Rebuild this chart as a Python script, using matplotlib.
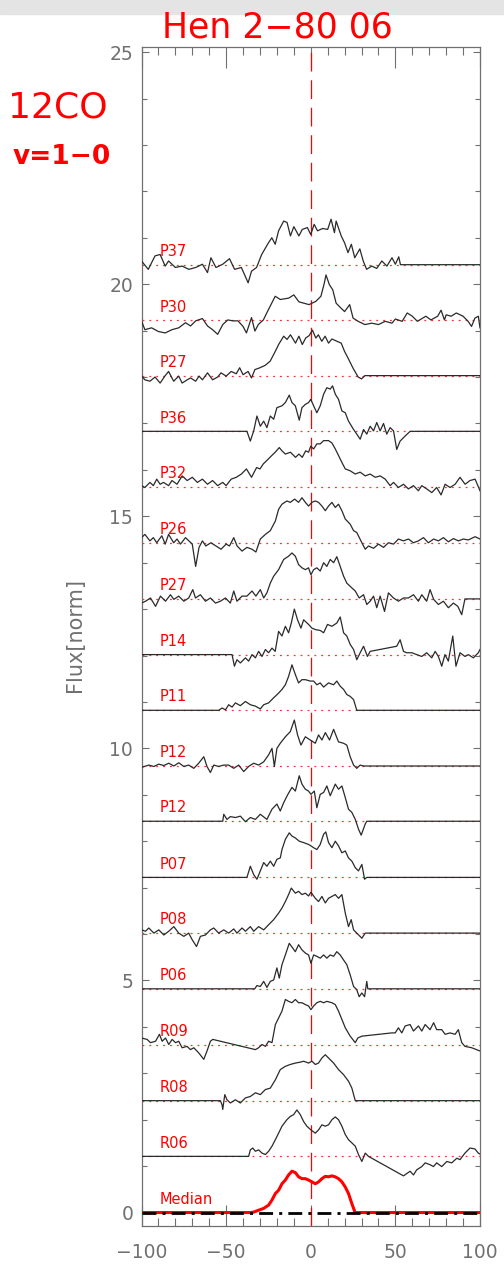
import numpy as np
import matplotlib.pyplot as plt
from matplotlib.patches import Rectangle

# velocity [km/s] / normalised flux (relative to each spectrum's baseline)
v_p37 = [-100,-96,-92,-89,-86,-84,-80,-76,-72,-68,-64,-61,-59,-56,-52,-48,-45,-41,-37,-35,
         -32,-29,-25,-23,-21,-19,-16,-14,-12,-10,-7,-5,-2,0,2,4,7,10,12,14,
         15,18,20,22,24,26,29,31,33,36,39,42,45,48,50,52,53,100]
f_p37 = [0.08,-0.10,0.19,0.22,-0.03,0.08,-0.06,-0.03,-0.10,-0.06,0.01,-0.17,0.15,-0.06,0.01,0.13,-0.10,-0.06,-0.39,-0.14,
         -0.06,0.22,0.47,0.58,0.44,0.73,0.94,0.91,0.62,0.82,0.62,0.76,0.80,0.65,0.87,0.73,0.78,0.76,0.98,0.69,
         0.94,0.62,0.47,0.26,0.44,0.15,0.34,0.08,-0.10,-0.03,-0.08,0.08,-0.03,0.15,0.01,0.17,0.0,0.0]

v_p30 = [-100,-98,-94,-90,-86,-82,-78,-74,-71,-68,-64,-61,-58,-55,-52,-49,-46,-43,-40,-38,
         -35,-33,-31,-28,-26,-21,-18,-13,-10,-7,-4,-1,3,6,8,9,11,13,15,18,
         20,23,25,28,32,36,40,44,48,50,54,57,60,63,68,71,75,77,79,80,
         83,86,90,93,95,97,99,100]
f_p30 = [-0.01,-0.20,-0.16,-0.24,-0.27,-0.20,-0.16,-0.05,-0.12,-0.01,0.04,-0.12,-0.20,-0.30,-0.09,0.01,-0.01,-0.01,-0.13,-0.27,
         0.06,-0.23,-0.09,0.01,0.16,0.52,0.45,0.48,0.55,0.40,0.37,0.34,0.41,0.52,0.80,0.98,0.77,0.66,0.37,0.26,
         0.19,0.34,0.05,-0.02,-0.09,-0.06,-0.09,-0.02,-0.06,0.03,-0.02,0.16,0.09,-0.02,0.09,0.01,0.09,0.22,0.01,0.12,
         0.09,0.16,0.09,-0.02,-0.13,0.05,0.09,-0.16]

v_p27 = [-100,-98,-95,-92,-89,-86,-84,-81,-78,-76,-73,-71,-68,-66,-64,-61,-58,-55,-53,-50,
         -47,-44,-42,-40,-37,-35,-33,-30,-27,-24,-21,-19,-16,-14,-12,-9,-7,-5,-3,-1,
         1,3,4.5,6.5,8.5,10.5,12.5,15.5,18,20,22,25,28,30,32,100]
f_p27 = [-0.01,-0.09,-0.12,-0.03,-0.16,0.0,0.09,-0.12,-0.01,-0.16,-0.09,-0.05,-0.12,-0.01,-0.09,0.06,-0.09,-0.03,0.06,-0.01,
         0.09,0.04,0.17,0.02,0.09,-0.05,0.13,0.17,0.22,0.31,0.52,0.67,0.85,0.78,0.88,0.70,0.85,0.67,0.81,0.86,
         0.98,0.81,0.88,0.74,0.85,0.70,0.79,0.74,0.70,0.52,0.38,0.16,-0.03,-0.07,0.0,0.0]

v_p36 = [-100,-37.7,-35.7,-33.7,-31.8,-29.8,-27.8,-25.9,-23.9,-21.9,-20,-17,-15,-12.7,-11.1,-9.1,-6.8,-5.2,-3.2,-1.3,
         0,1.7,3.6,5.6,7.6,9.5,11.5,12.9,14.5,16.4,18.4,20.4,22.3,25.3,27.2,29.2,31.2,33.1,35.1,37.1,
         39,41,43,44.9,46.9,48.9,50.8,52.8,55.8,58.7,100]
f_p36 = [0,0,-0.21,0.01,0.33,0.11,0.22,0.08,0.33,0.26,0.51,0.55,0.62,0.78,0.62,0.55,0.24,0.51,0.58,0.62,
         0.69,0.55,0.40,0.55,0.80,0.94,0.91,0.98,0.80,0.69,0.44,0.40,0.22,0.04,-0.06,-0.17,0.04,-0.06,0.11,0.01,
         0.19,0.01,0.17,-0.06,0.08,0.01,-0.39,-0.21,-0.10,0,0]

v_p32 = [-100,-98,-95,-93,-91,-89,-87,-84,-82,-79,-76,-73,-70,-67,-64,-61,-58,-55,-52,-50,
         -47,-44,-41,-38,-35,-32,-30,-28,-26,-23,-21,-18.6,-17,-15,-12,-9,-7,-5,-3,-1.3,
         0,1.7,3.6,5.6,7.6,10.5,12.5,14.5,16.4,18.4,20.4,23.3,26.3,29.2,32.2,35.1,38.1,41,44,46.9,
         48.9,51.8,54.8,57.7,60.7,63.6,65.6,68.5,71.5,74.4,77,79.4,82.3,85.3,88.2,91.2,94.1,97.1,100]
f_p32 = [0.03,-0.01,0.10,0.03,0.17,0.06,0.10,0.03,0.14,0.06,0.24,0.14,0.21,0.10,0.17,0.06,0.14,0.03,0.10,0.03,
         0.17,0.21,0.28,0.39,0.21,0.42,0.39,0.50,0.57,0.68,0.75,0.85,0.78,0.71,0.75,0.64,0.71,0.64,0.78,0.75,
         0.88,0.82,0.93,0.93,1.0,1.0,0.95,0.82,0.68,0.53,0.39,0.35,0.28,0.32,0.24,0.28,0.21,0.24,0.17,0.03,
         0.10,-0.01,0.06,-0.04,0.03,-0.08,0.03,-0.04,-0.12,-0.01,-0.17,0.06,-0.01,0.06,0.21,0.06,0.14,0.17,-0.08]

v_p26 = [-100,-98,-95,-93,-91,-88,-86,-84,-81,-79,-77,-74,-72,-70,-68,-66,-64,-62,-59,-56,
         -53,-50,-48,-45.5,-43.5,-40.6,-37.7,-34.7,-32.4,-29.8,-26.8,-23.9,-20.9,-19,-17,-14.1,-12.1,-9.5,-7.2,-5.2,
         -3.2,-1.3,0.7,2.7,4.6,6.6,8.6,10.5,12.5,14.5,16.4,18.4,20.4,23.3,25.3,27.2,30.2,32.2,34.1,37.1,
         40,43,45.9,48.9,51.8,54.8,57.7,60.7,63.6,66.6,69.5,72.6,75.4,78.4,81.3,84.3,87.2,90.2,93.1,97.1,100]
f_p26 = [0.12,0.19,0.05,0.12,0.01,0.16,-0.02,0.19,0.01,0.09,-0.02,0.12,0.05,-0.02,-0.50,-0.09,0.05,-0.06,0.01,-0.06,
         -0.13,-0.02,-0.06,0.12,-0.06,-0.17,-0.09,-0.13,-0.19,0.09,0.19,0.27,0.48,0.73,0.84,0.91,0.88,0.95,0.88,0.98,
         0.88,0.80,0.88,0.91,0.88,0.80,0.70,0.80,0.88,0.77,0.84,0.70,0.52,0.41,0.27,0.23,0.01,-0.13,-0.06,-0.11,
         -0.02,-0.09,0.01,-0.02,0.09,0.05,0.09,0.01,0.05,0.12,0.01,0.09,0.05,0.12,0.03,0.10,0.05,0.09,0.07,0.14,0.09]

v_p27b = [-100,-97.6,-94.7,-91.7,-88.8,-85.8,-82.9,-80.9,-78,-75,-72.1,-69.7,-68.1,-65.2,-62.2,-59.3,-56.3,-53.4,-50.4,-47.5,
          -45.5,-43.6,-40.6,-37.7,-34.7,-32.4,-29.8,-27.8,-25.9,-23.9,-21.9,-19,-16,-13.1,-11.1,-9.1,-7.2,-5.2,-3.2,-1.3,
          0.1,1.7,3.6,5.6,7.6,9.5,11.5,13.5,15.4,17.4,19.4,21.3,23.3,26.3,28.6,31.2,33.1,35.1,37.1,39,
          41,43.6,45.9,48.9,51.8,54.8,57.7,60.7,63.6,65.6,68.5,70.5,72.6,75.4,78.4,81.3,84.3,86.9,89.2,91.1,100]
f_p27b = [-0.09,-0.05,0.02,-0.16,0.06,-0.05,0.09,-0.01,0.06,-0.05,0.02,0.20,0.02,0.09,-0.05,0.02,-0.09,-0.05,0.02,-0.09,
          0.17,-0.05,0.06,0.06,0.17,0.06,0.20,0.02,0.13,0.34,0.49,0.63,0.85,0.92,0.99,0.92,0.74,0.67,0.63,0.67,
          0.52,0.63,0.67,0.60,0.78,0.70,0.85,0.78,0.91,0.70,0.49,0.34,0.27,0.17,0.02,0.09,-0.12,-0.05,0.06,-0.19,
          0.06,-0.27,0.13,0.02,-0.05,0.02,0.02,0.09,-0.05,0.09,-0.05,0.20,-0.01,-0.12,-0.05,-0.19,-0.09,-0.16,-0.34,0,0]

v_p14 = [-100,-46.5,-45.1,-43.6,-41.6,-38.6,-36.7,-34.7,-32.7,-30.8,-28.8,-26.8,-24.9,-22.9,-21,-19,-17,-15,-13.1,-11.5,
         -9.7,-7.8,-5.8,-4.2,-1.3,0.7,2.7,5.6,7.6,9.9,12.5,15.4,17.4,19.4,21.3,23.3,25.3,27.2,29.2,31.2,
         33.5,35.1,50.8,52.8,54.8,56.7,59.7,62.6,65.6,68.5,71.5,73.5,75.4,77.4,79.3,81.3,83.9,85.8,88.2,91.1,
         93.1,96.1,99,100]
f_p14 = [0,0,-0.25,-0.11,-0.18,-0.07,-0.14,0,-0.07,0.07,-0.04,0.11,0.04,0.14,0.07,0.50,0.40,0.61,0.47,0.68,
         0.98,0.75,0.57,0.75,0.65,0.57,0.54,0.52,0.47,0.65,0.61,0.68,0.81,0.47,0.40,0.22,0.11,-0.11,0.04,0.18,
         -0.04,0.07,0.18,0.32,0.07,0.04,0.04,0,-0.04,0.04,-0.07,0.07,-0.04,-0.25,0,-0.14,0.40,-0.25,0.04,-0.04,
         0,-0.07,0.04,0.11]

v_p11 = [-100,-54.4,-52.4,-50.4,-48.5,-46.5,-44.5,-41.6,-38.6,-35.7,-32.7,-29.8,-27.8,-24.9,-21.9,-19,-17,-15,-13.1,-11.1,
         -9.1,-7.2,-5.2,-3.2,-0.3,1.7,3.6,5.6,7.6,10.5,13.5,15.4,17.4,19.4,21.3,23.3,25.3,27.2,100]
f_p11 = [0,0,0.05,0.01,0.12,0.07,0.16,0.10,0.19,0.12,0.09,0.03,0.12,0.16,0.27,0.37,0.45,0.55,0.73,0.98,
         0.77,0.59,0.66,0.66,0.63,0.63,0.55,0.59,0.50,0.59,0.55,0.63,0.52,0.45,0.34,0.30,0.23,0,0]

v_p12a = [-100,-95.7,-92.7,-89.8,-86.8,-83.9,-80.9,-78,-75,-72.1,-69.1,-66.2,-63.2,-61.3,-59.3,-57.3,-54.4,-51.4,-48.5,-45.5,
          -42.6,-39.6,-36.7,-33.7,-30.8,-27.8,-24.9,-22.9,-21.5,-20,-18,-15,-12.1,-9.7,-7.8,-5.8,-3.2,-0.3,2.7,4.6,
          6.6,8.6,11.1,13.5,16.4,19.4,21.3,23.3,25.3,27.2,29.2,31.2,100]
f_p12a = [-0.03,0.02,-0.01,0.04,0.01,0.06,0,0.07,-0.01,0.02,-0.05,0.06,0.20,-0.01,-0.14,0.02,-0.01,0.02,0.02,-0.05,
          0.02,-0.12,-0.01,0.06,0.02,0.09,0.24,0.38,-0.01,0.38,0.49,0.63,0.74,0.99,0.67,0.45,0.63,0.56,0.49,0.67,
          0.56,0.72,0.56,0.79,0.52,0.49,0.45,0.20,0.02,-0.05,0.02,0,0]

v_p12b = [-100,-52,-51.4,-49.5,-47.5,-44.5,-41.6,-38.6,-35.7,-32.7,-29.8,-25.9,-22.9,-20,-18,-16,-13.5,-11.1,-9.1,-6.8,
          -5.2,-3.2,-1.3,0.1,2.1,3.6,5.6,7.6,9.5,11.5,14.5,16.4,18.4,20.4,22.3,24.3,26.3,28.2,29.8,32.2,
          33.1,100]
f_p12b = [0,0,0.15,0.04,0.10,0.08,0.11,-0.01,0.08,0.04,0.15,0.04,0.26,0.37,0.22,0.40,0.58,0.73,0.65,0.98,
          0.80,0.69,0.65,0.58,0.65,0.29,0.58,0.62,0.76,0.55,0.80,0.69,0.76,0.51,0.26,0.19,0.04,-0.17,-0.30,-0.06,
          0,0]

v_p07 = [-100,-37.7,-35.7,-33.7,-31.8,-29.8,-27.8,-25.9,-23.9,-21.9,-20,-18,-17,-15,-12.7,-11.1,-9.1,-6.8,-4.2,-1.3,
         0.1,1.7,3.6,5.6,7.6,8.9,10.5,12.5,14.5,16.4,18.4,20.4,22.3,24.3,26.3,28.2,30.2,31.8,33.1,100]
f_p07 = [0,0,0.24,0.06,-0.04,0.14,0.32,0.24,0.35,0.24,0.39,0.42,0.60,0.82,0.96,0.89,0.85,0.78,0.75,0.71,
         0.68,0.64,0.60,0.71,0.93,0.98,0.75,0.64,0.78,0.68,0.53,0.57,0.42,0.35,0.21,0.14,0.28,-0.04,0,0]

v_p08 = [-100,-97.6,-95.7,-92.7,-89.8,-86.8,-83.9,-80.9,-78,-75,-72.1,-70.1,-67.5,-65.2,-62.2,-59.3,-57.3,-54.4,-51.4,-48.5,
         -45.5,-43.6,-40.6,-38.6,-35.7,-33.7,-30.8,-27.8,-24.9,-21.9,-19,-17,-15,-13.1,-11.5,-9.1,-7.2,-5.2,-3.2,-1.3,
         0.1,2.7,4.6,6.6,8.6,10.5,12.5,14.5,16.4,18.4,20.4,22.3,23.9,25.3,27.2,30.2,32.2,100]
f_p08 = [0.07,0.04,0.11,0,0.07,-0.04,0.04,0.14,0,-0.07,0,-0.14,-0.29,-0.07,-0.04,0.07,0.11,0,0.07,0,
         0.09,0,0.11,0.04,0.14,0.04,0.14,0.07,0.18,0.29,0.43,0.54,0.68,0.83,0.97,0.86,0.90,0.83,0.86,0.80,
         0.88,0.75,0.68,0.79,0.65,0.75,0.79,0.83,0.75,0.83,0.43,0.14,0.29,0.07,0,-0.11,0,0]

v_p06 = [-100,-33.1,-31.8,-29.8,-27.8,-25.9,-23.9,-21.9,-20,-18.6,-17,-15,-12.7,-10.7,-9.1,-7.2,-5.2,-3.2,-1.3,0.1,
         1.7,3.6,5.6,7.6,9.5,11.5,13.5,15.4,17.4,19.4,21.3,23.3,25.3,27.2,28.6,30.2,31.8,33.1,33.7,100]
f_p06 = [0,0,0.07,0.05,0.16,0.03,0.16,0.19,0.45,0.23,0.52,0.73,0.98,0.88,0.80,0.95,0.84,0.77,0.73,0.55,
         0.73,0.70,0.66,0.73,0.66,0.73,0.70,0.80,0.73,0.62,0.52,0.30,0.05,-0.02,-0.17,-0.09,-0.17,0.16,0,0]

v_r09 = [-100,-96.7,-94.7,-91.7,-89.4,-87.8,-85.8,-83.9,-81.9,-79.9,-78,-76,-73.1,-71.1,-69.1,-66.2,-63.2,-61.3,-59.3,-57.9,
         -32.7,-30.8,-28.8,-26.8,-24.9,-22.9,-20.9,-19,-17,-15,-13.1,-11.1,-9.1,-7.2,-5.2,-3.2,-1.3,0.1,1.7,3.6,
         5.6,7.6,9.5,12.5,14.5,16.4,18.4,20.4,23.3,26.3,27.8,30.2,47.9,49.9,51.8,53.8,55.8,58.7,60.7,63.6,
         65.6,67.6,70.5,72.6,74.4,77.4,79.4,82.3,85.3,87.2,89.2,91.1,95.1,100]
f_r09 = [0.14,0.11,0.04,0.07,0.22,0.07,0.14,0,0.11,0.04,0.07,-0.07,-0.04,-0.11,-0.07,-0.18,-0.32,-0.14,0.07,0.11,
         -0.11,-0.07,0,-0.04,0.07,0.04,0.43,0.57,0.72,0.97,0.93,0.90,0.97,0.90,0.90,0.86,0.83,0.75,0.83,0.90,
         0.93,0.90,0.93,0.90,0.86,0.72,0.54,0.36,0.18,0.04,0.14,0.18,0.25,0.25,0.36,0.25,0.40,0.43,0.29,0.40,
         0.29,0.43,0.32,0.47,0.32,0.32,0.22,0.25,0.22,0.32,0.04,-0.04,-0.07,-0.14]

v_r08 = [-100,-53.4,-52.4,-52,-50.8,-49.5,-47.5,-44.5,-41.6,-38.6,-35.7,-32.7,-29.8,-26.8,-23.9,-20.9,-18,-15,-12.1,-9.1,
         -6.2,-4.2,-1.3,0.7,2.7,4.6,6.6,8.6,10.5,13.5,16.4,19.4,22.3,24.3,26.3,100]
f_r08 = [0,0,-0.09,-0.19,0.13,0.02,-0.05,0.02,-0.05,0.06,0.09,0.17,0.13,0.24,0.27,0.45,0.67,0.74,0.78,0.81,
         0.83,0.85,0.81,0.85,0.78,0.81,0.92,0.99,0.92,0.81,0.67,0.56,0.42,0.27,0,0]

v_r06 = [-100,-36.7,-35.7,-34.3,-32.7,-30.8,-28.8,-26.8,-24.9,-22.9,-20.9,-19,-17,-14.1,-12.1,-10.1,-8.2,-6.2,-4.2,-2.3,
         0.1,2.7,4.6,6.6,8.6,10.5,12.5,14.5,16.4,18.4,20.4,22.3,24.3,26.3,28.2,30.2,32.2,34.1,54.8,58.7,
         60.7,62.6,65.6,67.6,70.5,72.5,74.4,77.4,80.4,83.3,86.3,88.2,91.1,94.1,97,99,100]
f_r06 = [0,0,0.14,0.18,0.11,0.14,0.07,0.04,0.11,0.22,0.36,0.50,0.65,0.79,0.86,0.90,1.0,0.90,0.75,0.65,
         0.57,0.50,0.57,0.68,0.65,0.68,0.79,0.85,0.79,0.65,0.47,0.36,0.29,0.22,0.04,-0.11,0.07,0.0,-0.42,-0.32,
         -0.40,-0.29,-0.22,-0.14,-0.18,-0.22,-0.14,-0.22,-0.11,-0.14,-0.04,-0.07,0.07,0.18,0.16,0.07,0.05]

v_med = [-100,-35.7,-33.7,-30.8,-27.8,-24.9,-22.9,-20.9,-19,-17,-15,-13.1,-11.1,-9.1,-7.2,-5.2,-3.2,-1.3,0.7,2.7,
         4.6,6.6,8.6,10.5,12.5,14.4,16.4,18.4,20.4,22.3,24.3,26.2,100]
f_med = [0,0,0.01,0.05,0.09,0.16,0.27,0.41,0.48,0.62,0.70,0.81,0.89,0.86,0.77,0.73,0.73,0.70,0.66,0.62,
         0.66,0.73,0.78,0.77,0.79,0.77,0.73,0.66,0.55,0.41,0.19,0,0]

labels = ['P37', 'P30', 'P27', 'P36', 'P32', 'P26', 'P27', 'P14', 'P11',
          'P12', 'P12', 'P07', 'P08', 'P06', 'R09', 'R08', 'R06']
offsets = [20.42, 19.22, 18.03, 16.83, 15.63, 14.42, 13.22, 12.02, 10.82,
           9.62, 8.43, 7.22, 6.02, 4.82, 3.62, 2.41, 1.21]
spectra = [(v_p37, f_p37), (v_p30, f_p30), (v_p27, f_p27), (v_p36, f_p36),
           (v_p32, f_p32), (v_p26, f_p26), (v_p27b, f_p27b), (v_p14, f_p14),
           (v_p11, f_p11), (v_p12a, f_p12a), (v_p12b, f_p12b), (v_p07, f_p07),
           (v_p08, f_p08), (v_p06, f_p06), (v_r09, f_r09), (v_r08, f_r08),
           (v_r06, f_r06)]

gray = '#707070'
fig = plt.figure(figsize=(5.04, 12.64), dpi=100)
fig.patches.append(Rectangle((0, 1 - 14/1264), 1, 14/1264, transform=fig.transFigure,
                             color='#e4e4e4', zorder=0))
ax = fig.add_axes([141.5/504, 38/1264, 338.5/504, 1179/1264])

for (v, f), off, lab in zip(spectra, offsets, labels):
    ax.axhline(off, color='#ff3030', lw=0.9, ls=(0, (1.5, 4)), zorder=1)
    ax.plot(v, np.array(f) + off, color='#2a2a2a', lw=0.9, zorder=3)
    ax.text(-89.5, off + 0.19, lab, color='red', fontsize=10.5, va='baseline', ha='left')

ax.plot(v_med, f_med, color='red', lw=2.2, zorder=3)
ax.axhline(0, color='black', lw=2, ls=(0, (5, 2.2, 1.1, 2.2)), zorder=4)
ax.text(-89.5, 0.19, 'Median', color='red', fontsize=10.5, va='baseline', ha='left')
ax.axvline(0, color='red', lw=0.9, ls=(0, (15, 7)), zorder=2)

ax.set_xlim(-100, 100)
ax.set_ylim(-0.29, 25.11)
ax.set_xticks([-100, -50, 0, 50, 100])
ax.set_xticks(np.arange(-100, 101, 10), minor=True)
ax.set_yticks([0, 5, 10, 15, 20, 25])
ax.set_yticks(np.arange(0, 26, 1), minor=True)
ax.tick_params(which='both', direction='in', top=True, right=True,
               color=gray, labelcolor=gray, labelsize=13.5, width=0.8)
ax.tick_params(axis='x', which='major', length=15, pad=12)
ax.tick_params(axis='x', which='minor', length=6)
ax.tick_params(axis='y', which='major', length=5, pad=6)
ax.tick_params(axis='y', which='minor', length=3.6)
for s in ax.spines.values():
    s.set_color(gray)
    s.set_linewidth(0.9)

fig.text(75/504, 1 - 635/1264, 'Flux[norm]', rotation=90, color=gray,
         fontsize=15, ha='center', va='center')
fig.text(277/504, 1 - 28/1264, 'Hen 2\u221280 06', color='red', fontsize=25,
         ha='center', va='center')
fig.text(58/504, 1 - 108/1264, '12CO', color='red', fontsize=26,
         ha='center', va='center')
fig.text(62/504, 1 - 157/1264, 'v=1\u22120', color='red', fontsize=19,
         fontweight='bold', ha='center', va='center')

fig.savefig('out.png', dpi=100)
